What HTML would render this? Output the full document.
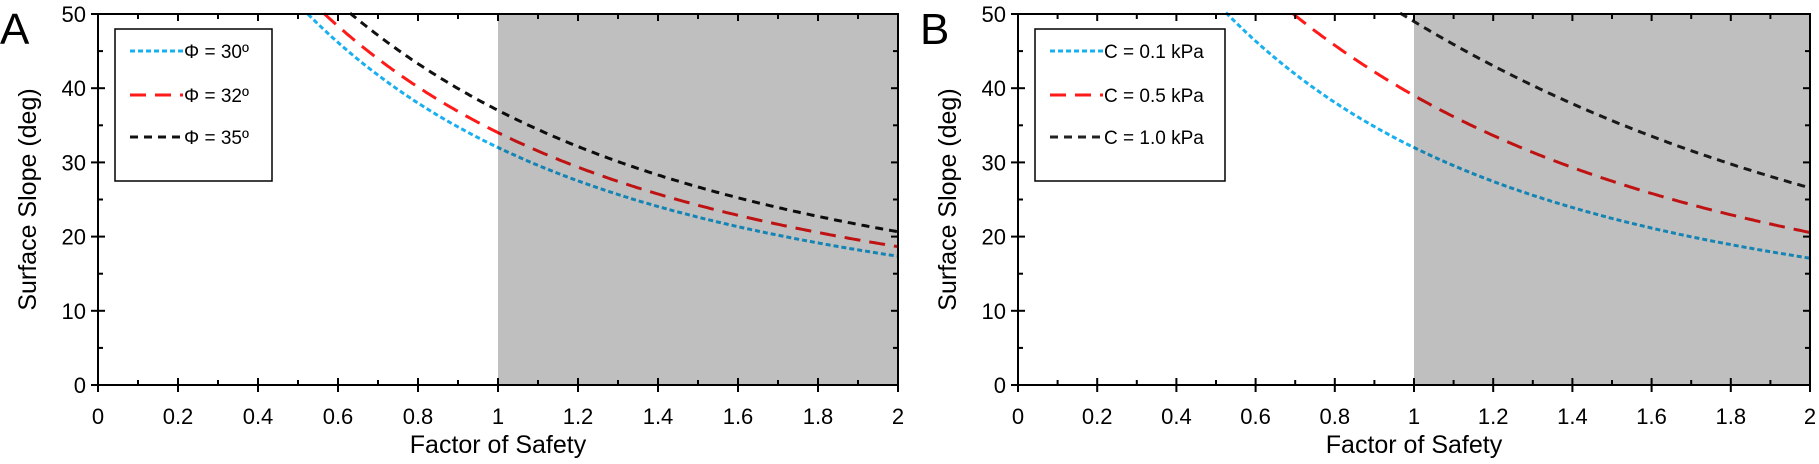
<!DOCTYPE html>
<html><head><meta charset="utf-8">
<style>
html,body{margin:0;padding:0;background:#fff;}
svg{display:block;font-family:"Liberation Sans",Arial,sans-serif;}
</style></head>
<body>
<svg id="s" width="1819" height="464" viewBox="0 0 1819 464" xmlns="http://www.w3.org/2000/svg">
</svg>
<script>
const NS="http://www.w3.org/2000/svg";
const s=document.getElementById('s');
function el(t,a,txt){const e=document.createElementNS(NS,t);for(const k in a)e.setAttribute(k,a[k]);if(txt!==undefined)e.textContent=txt;s.appendChild(e);return e;}
function panel(x0,x2,y0,y50,letter,series,legX,legLabels){
  const X=v=>x0+(x2-x0)*v/2, Y=v=>y0+(y50-y0)*v/50;
  const deg=Math.PI/180;
  series.forEach(sr=>{
    let d='';
    for(let f=0.3;f<=2.0001;f+=0.005){
      let t=sr.a/f+sr.b; let b=Math.atan(t)/deg;
      if(b>50.2) continue;
      d+=(d?'L':'M')+X(f).toFixed(1)+','+Y(b).toFixed(1);
    }
    el('path',{d:d,fill:'none',stroke:sr.c,'stroke-width':3,'stroke-dasharray':sr.da});
  });
  el('rect',{x:X(1),y:y50,width:X(2)-X(1),height:y0-y50,fill:'rgba(0,0,0,0.25)'});
  el('path',{d:`M${x0},${y50}H${x2}V${y0}H${x0}Z`,fill:'none',stroke:'#000','stroke-width':2});
  for(let i=0;i<=20;i++){
    const v=i/10,x=X(v),maj=i%2==0;
    el('line',{x1:x,x2:x,y1:maj?y0+7:y0,y2:y0-(maj?7:5),stroke:'#000','stroke-width':2});
    el('line',{x1:x,x2:x,y1:y50,y2:y50+(maj?7:5),stroke:'#000','stroke-width':2});
    if(maj) el('text',{x:x,y:y0+39,'font-size':22,'text-anchor':'middle',fill:'#000'},(Math.round(v*10)/10).toString());
  }
  for(let i=0;i<=10;i++){
    const v=i*5,y=Y(v),maj=i%2==0;
    el('line',{x1:maj?x0-7:x0,x2:x0+(maj?7:5),y1:y,y2:y,stroke:'#000','stroke-width':2});
    el('line',{x1:x2,x2:x2-(maj?7:5),y1:y,y2:y,stroke:'#000','stroke-width':2});
    if(maj) el('text',{x:x0-12,y:y+8,'font-size':22,'text-anchor':'end',fill:'#000'},String(v));
  }
  el('text',{x:(x0+x2)/2,y:453,'font-size':25,'text-anchor':'middle',fill:'#000'},'Factor of Safety');
  const cx=x0-62, cy=(y0+y50)/2;
  el('text',{x:cx,y:cy,'font-size':25,'text-anchor':'middle',fill:'#000',transform:`rotate(-90 ${cx} ${cy})`},'Surface Slope (deg)');
  el('text',{x:x0-98,y:44,'font-size':44,fill:'#000'},letter);
  el('rect',{x:legX,y:29,width:legLabels.w,height:152,fill:'#fff',stroke:'#000','stroke-width':1.5});
  [51,95,137].forEach((ly,i)=>{
    el('line',{x1:legX+15,x2:legX+68,y1:ly,y2:ly,stroke:series[i].c,'stroke-width':3,'stroke-dasharray':series[i].da});
    el('text',{x:legX+69,y:ly+7,'font-size':19,fill:'#000'},legLabels.t[i]);
  });
}
panel(98,898,385,14,'A',[
  {a:0.625,b:0,c:'#1ab0ef',da:'5,3'},
  {a:0.675,b:0,c:'#ff1a1a',da:'16,9'},
  {a:0.754,b:0,c:'#111',da:'8,6'}
],115,{w:157,t:['Φ = 30º','Φ = 32º','Φ = 35º']});
panel(1018,1810,385,14,'B',[
  {a:0.635,b:-0.01,c:'#1ab0ef',da:'5,3'},
  {a:0.87,b:-0.06,c:'#ff1a1a',da:'16,9'},
  {a:1.3,b:-0.15,c:'#222',da:'8,6'}
],1035,{w:190,t:['C = 0.1 kPa','C = 0.5 kPa','C = 1.0 kPa']});
</script>
</body></html>
